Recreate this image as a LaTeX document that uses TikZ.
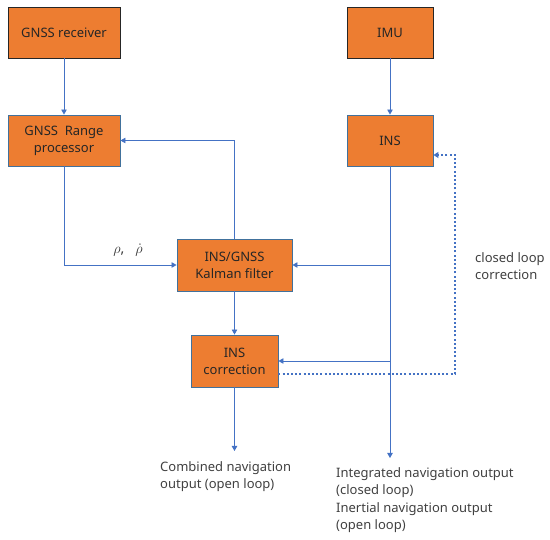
\documentclass[tikz,border=0pt]{standalone}
\usepackage{fontspec}
\setmainfont{Noto Sans}
\usepackage{xcolor}
\usetikzlibrary{arrows.meta}
\definecolor{qorange}{RGB}{237,125,49}
\definecolor{qblue}{RGB}{68,114,196}
\definecolor{qedge}{RGB}{65,113,156}

\begin{document}
\begin{tikzpicture}[x=1pt,y=-1pt,
  block/.style={draw=qedge, line width=0.9pt, fill=qorange, align=center, inner sep=0pt,
    text=black!85, font=\fontsize{13}{17}\selectfont},
  topblock/.style={block, draw=black!85},
  link/.style={draw=qblue, line width=0.8pt, -{Triangle[length=5pt,width=5.5pt]}},
  loopback/.style={draw=qblue, line width=2pt, dash pattern=on 2pt off 2.2pt,
    -{Triangle[length=5pt,width=6pt]}},
  note/.style={anchor=north west, align=left, inner sep=0pt, text=black!75,
    font=\fontsize{13}{17.5}\selectfont}]
\useasboundingbox (0,0) rectangle (550,540);
\def\wl{112}%left column width
\def\wr{86}%right column width
\def\h{51}%block height

% blocks
\node[topblock, minimum width=\wl, minimum height=\h] (rcv) at (64,32.5) {GNSS receiver};
\node[topblock, minimum width=\wr, minimum height=\h] (imu) at (390,32.5) {IMU};
\node[block, minimum width=\wl, minimum height=\h] (rng) at (64,140.5) {GNSS\ \ Range\\processor};
\node[block, minimum width=\wr, minimum height=\h] (ins) at (390,140.5) {INS};
\node[block, minimum width=115, minimum height=52] (kal) at (234.5,265) {INS/GNSS\\Kalman filter};
\node[block, minimum width=87, minimum height=52] (cor) at (234.5,361) {INS\\correction};

% free ends
\coordinate (out1) at (234.5,451);
\coordinate (out2) at (390,458);
\coordinate (loop) at (455,260);

% connectors
\draw[link] (rcv) -- (rng);
\draw[link] (imu) -- (ins);
\draw[link] (rng.south) |- (kal.west);
\draw[link] (kal.north) |- (rng.east);
\draw[link] (ins.south) -- (out2);
\draw[link] (ins.south |- kal.east) -- (kal.east);
\draw[link] (ins.south |- cor.east) -- (cor.east);
\draw[link] (kal) -- (cor);
\draw[link] (cor) -- (out1);
\draw[loopback] ([yshift=-13pt]cor.east) -| (loop) |- ([yshift=-14.5pt]ins.east);

% labels
\node[inner sep=0pt, text=black!80, font=\fontsize{14}{16}\selectfont] (rho) at (128,250) {$\rho$,\ \ \ $\dot{\rho}$};
\node[note] (cl) at (475,252) {closed loop\\correction};
\node[note] (comb) at (160,461) {Combined navigation\\output (open loop)};
\node[note] (integ) at (336,467) {Integrated navigation output\\(closed loop)\\Inertial navigation output\\(open loop)};
\end{tikzpicture}
\end{document}
